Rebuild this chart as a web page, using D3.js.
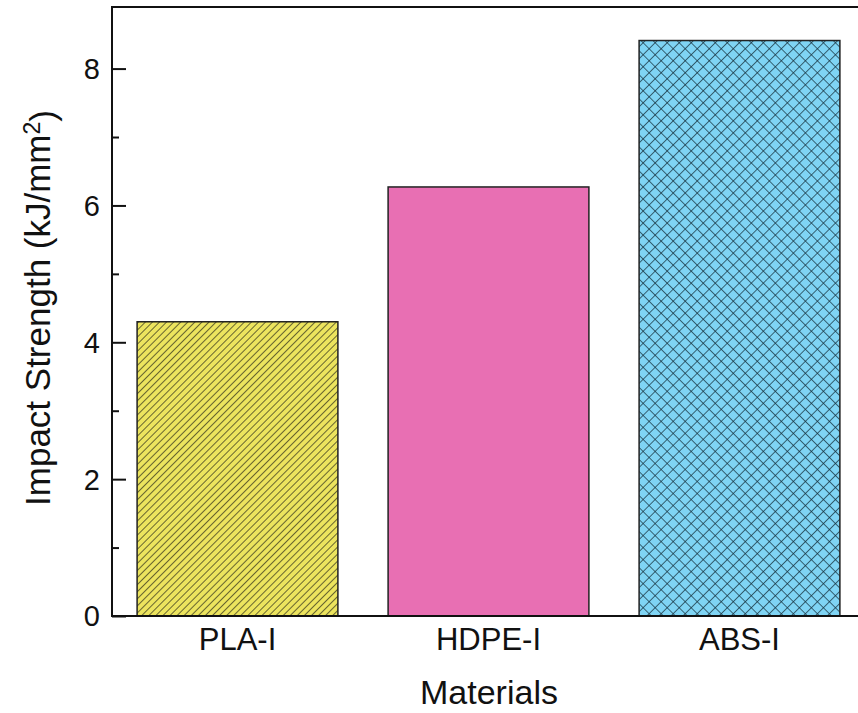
<!DOCTYPE html>
<html>
<head>
<meta charset="utf-8">
<script src="https://cdnjs.cloudflare.com/ajax/libs/d3/7.8.5/d3.min.js"></script>
<style>
  body { margin: 0; background: #fff; }
  text { font-family: "Liberation Sans", Arial, sans-serif; fill: #111; }
</style>
</head>
<body>
<div id="chart"></div>
<script>
// data
var materials = ["PLA-I", "HDPE-I", "ABS-I"];
var strength = [4.30, 6.27, 8.41];
var fills = ["#ece45e", "#e86fb3", "#7fd4f4"];
var hatches = ["diag", "none", "cross"];
var majorTicks = [0, 2, 4, 6, 8];
var minorTicks = [1, 3, 5, 7];

var width = 858, height = 713;
var plotL = 112, plotT = 7, plotR = 865, plotB = 616;

var svg = d3.select("#chart").append("svg")
    .attr("width", width)
    .attr("height", height);

var defs = svg.append("defs");

// single diagonal hatch
var p1 = defs.append("pattern")
    .attr("id", "diag")
    .attr("patternUnits", "userSpaceOnUse")
    .attr("width", 5.0).attr("height", 5.0)
    .attr("patternTransform", "rotate(45)");
p1.append("rect").attr("width", 5.0).attr("height", 5.0).attr("fill", fills[0]);
p1.append("line").attr("x1", 0).attr("y1", 0).attr("x2", 0).attr("y2", 5.0)
    .attr("stroke", "#2e2e1a").attr("stroke-width", 1.4);

// cross hatch
var p3 = defs.append("pattern")
    .attr("id", "cross")
    .attr("patternUnits", "userSpaceOnUse")
    .attr("width", 8.5).attr("height", 8.5)
    .attr("patternTransform", "rotate(45)");
p3.append("rect").attr("width", 8.5).attr("height", 8.5).attr("fill", fills[2]);
p3.append("line").attr("x1", 0).attr("y1", 0).attr("x2", 0).attr("y2", 8.5)
    .attr("stroke", "#15303c").attr("stroke-width", 1.4);
p3.append("line").attr("x1", 0).attr("y1", 0).attr("x2", 8.5).attr("y2", 0)
    .attr("stroke", "#15303c").attr("stroke-width", 1.4);

var x = d3.scaleBand()
    .domain(materials)
    .range([plotL, plotR])
    .paddingInner(0.2)
    .paddingOuter(0.1);

var y = d3.scaleLinear()
    .domain([0, 8.9])
    .range([plotB, plotT]);

// bars
svg.selectAll("rect.bar")
    .data(materials)
    .enter().append("rect")
    .attr("class", "bar")
    .attr("x", function(d) { return x(d); })
    .attr("y", function(d, i) { return y(strength[i]); })
    .attr("width", x.bandwidth())
    .attr("height", function(d, i) { return y(0) - y(strength[i]); })
    .attr("fill", function(d, i) { return hatches[i] == "none" ? fills[i] : "url(#" + hatches[i] + ")"; })
    .attr("stroke", "#222")
    .attr("stroke-width", 1.5);

// frame
svg.append("rect")
    .attr("x", plotL).attr("y", plotT)
    .attr("width", plotR - plotL).attr("height", plotB - plotT)
    .attr("fill", "none")
    .attr("stroke", "#111")
    .attr("stroke-width", 2);

// y axis, ticks pointing inward
var yAxis = svg.append("g")
    .attr("transform", "translate(" + plotL + ",0)")
    .call(d3.axisRight(y).tickValues(majorTicks).tickSize(14).tickFormat(""));
yAxis.select(".domain").remove();
yAxis.selectAll("line").attr("stroke", "#111").attr("stroke-width", 2);

var yMinor = svg.append("g")
    .attr("transform", "translate(" + plotL + ",0)")
    .call(d3.axisRight(y).tickValues(minorTicks).tickSize(7).tickFormat(""));
yMinor.select(".domain").remove();
yMinor.selectAll("line").attr("stroke", "#111").attr("stroke-width", 2);

// y tick labels
svg.selectAll("text.ylab")
    .data(majorTicks)
    .enter().append("text")
    .attr("class", "ylab")
    .attr("x", 100)
    .attr("y", function(d) { return y(d); })
    .attr("dy", "0.36em")
    .attr("text-anchor", "end")
    .style("font-size", "29px")
    .text(function(d) { return d; });

// x labels
svg.selectAll("text.xlab")
    .data(materials)
    .enter().append("text")
    .attr("class", "xlab")
    .attr("x", function(d) { return x(d) + x.bandwidth() / 2; })
    .attr("y", 650)
    .attr("text-anchor", "middle")
    .style("font-size", "31px")
    .text(function(d) { return d; });

// axis titles
svg.append("text")
    .attr("x", 489)
    .attr("y", 704)
    .attr("text-anchor", "middle")
    .style("font-size", "34px")
    .text("Materials");

var yt = svg.append("text")
    .attr("transform", "translate(50,308) rotate(-90)")
    .attr("text-anchor", "middle")
    .style("font-size", "35px");
yt.append("tspan").text("Impact Strength (kJ/mm");
yt.append("tspan").attr("dy", "-0.45em").style("font-size", "23px").text("2");
yt.append("tspan").attr("dy", "0.45em").text(")");
</script>
</body>
</html>
